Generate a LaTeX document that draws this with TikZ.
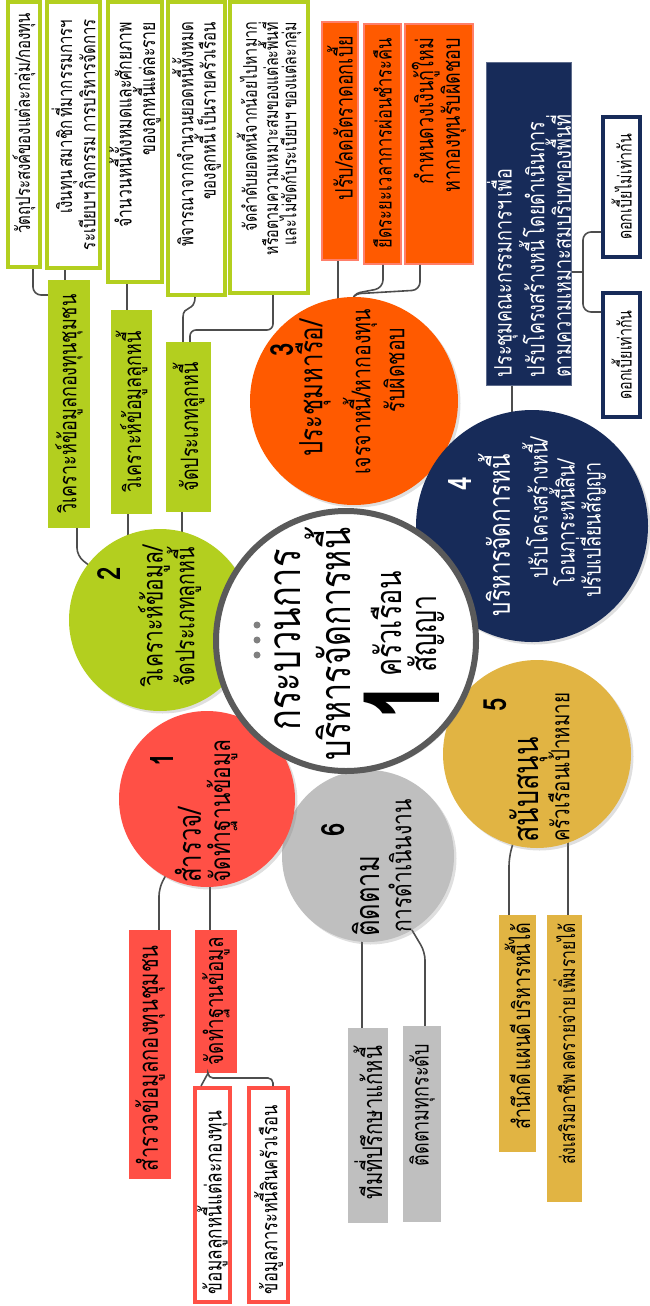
\documentclass[tikz,border=0pt]{standalone}
\usepackage{fontspec}
\newfontfamily\thai[Script=Thai,FakeStretch=0.75]{Loma}
\usetikzlibrary{shadows}
\definecolor{cRed}{HTML}{FF5046}
\definecolor{cGreen}{HTML}{B3CF1F}
\definecolor{cOrange}{HTML}{FF5A00}
\definecolor{cOrB}{HTML}{FF7F6A}
\definecolor{cNavy}{HTML}{172B59}
\definecolor{cGold}{HTML}{E1B443}
\definecolor{cGray}{HTML}{BFBFBF}
\definecolor{cRing}{HTML}{5A5A5A}
\definecolor{cLine}{HTML}{4D4D4D}
\newcommand\fsz[2]{\fontsize{#1}{#2}\selectfont}
\begin{document}
\begin{tikzpicture}[x=1pt,y=-1pt,
 circ/.style={circle, inner sep=0pt, draw=none, drop shadow={shadow xshift=2.5pt, shadow yshift=-2.5pt, opacity=0.25}},
 lbl/.style={rotate=90, inner sep=0pt, font=\thai},
 num/.style={rotate=90, inner sep=0pt, font=\thai\bfseries\fsz{32}{32}},
 bx/.style={rotate=90, inner xsep=8pt, inner ysep=0pt, font=\thai},
 conn/.style={draw=cLine, line width=1.6pt, rounded corners=8pt},
 gob/.style={bx, draw=cGreen, fill=white, line width=4pt, align=right},
 gfb/.style={bx, fill=cGreen, align=center},
 orb/.style={bx, fill=cOrange, draw=cOrB, line width=1.5pt, align=right, inner xsep=14pt},
 nob/.style={bx, draw=cNavy, fill=white, line width=4pt, align=center},
 rfb/.style={bx, fill=cRed, align=left},
 rob/.style={bx, draw=cRed, fill=white, line width=4pt, align=left},
 yfb/.style={bx, fill=cGold, align=right},
 kfb/.style={bx, fill=cGray, align=right, inner xsep=18pt},
]
\useasboundingbox (0,0) rectangle (649,1306);
% circle centres
\coordinate (p1) at (207,799);
\coordinate (p2) at (160,620);
\coordinate (p3) at (354,401);
\coordinate (p4) at (532,526);
\coordinate (p5) at (537,754);
\coordinate (p6) at (368,856);
% ---- branch 2 boxes
\node[gob, text width=243pt, inner xsep=11pt, minimum height=32pt] (b2a) at (24,134.5) {\fsz{20}{20}วัตถุประสงค์ของแต่ละกลุ่ม/กองทุน};
\node[gob, text width=230pt, inner xsep=18pt, minimum height=53pt] (b2b) at (73.5,135) {\fsz{20}{21}เงินทุน~สมาชิก~ที่มากรรมการฯ\\ระเบียบฯ~กิจกรรม~การบริหารจัดการ};
\node[gob, text width=240pt, inner xsep=20pt, minimum height=54pt] (b2c) at (135,142) {\fsz{21}{21}จำนวนหนี้ทั้งหมดและศักยภาพ\\ของลูกหนี้แต่ละราย};
\node[gob, text width=253pt, inner xsep=20pt, minimum height=57pt] (b2d) at (196.5,148.5) {\fsz{20}{21}พิจารณาจากจำนวนยอดหนี้ทั้งหมด\\ของลูกหนี้~เป็นรายครัวเรือน};
\node[gob, text width=251pt, inner xsep=20pt, minimum height=78pt] (b2e) at (269,147.5) {\fsz{19}{19}จัดลำดับยอดหนี้จากน้อยไปหามาก\\หรือตามความเหมาะสมของแต่ละพื้นที่\\และไม่ขัดกับระเบียบฯ~ของแต่ละกลุ่ม};
\node[gfb, text width=232pt, minimum height=42pt] (g1) at (69,404) {\fsz{24}{24}วิเคราะห์ข้อมูลกองทุนชุมชน};
\node[gfb, text width=188pt, minimum height=41pt] (g2) at (131.5,412) {\fsz{24}{24}วิเคราะห์ข้อมูลลูกหนี้};
\node[gfb, text width=154pt, minimum height=45pt] (g3) at (188.5,427) {\fsz{24}{24}จัดประเภทลูกหนี้};
% ---- branch 3 boxes
\node[orb, text width=210pt, minimum height=36pt] (o1) at (340,141) {\fsz{24}{24}ปรับ/ลดอัตราดอกเบี้ย};
\node[orb, text width=212pt, minimum height=37pt] (o2) at (382.5,144) {\fsz{22}{22}ยืดระยะเวลาการผ่อนชำระคืน};
\node[orb, text width=212pt, minimum height=68pt] (o3) at (439,144) {\fsz{24}{21}กำหนดวงเงินกู้ใหม่\\หากองทุนรับผิดชอบ};
% ---- branch 4 boxes
\node[bx, fill=cNavy, draw=cNavy!70!white, line width=1pt, text=white, align=left, text width=306pt, minimum height=78pt] (nb) at (529,224) {\fsz{24}{23}ประชุมคณะกรรมการฯ~เพื่อ\\ปรับโครงสร้างหนี้~โดยดำเนินการ\\ตามความเหมาะสมบริบทของพื้นที่};
\node[nob, text width=124pt, minimum height=37pt] (nn1) at (621.5,187) {\fsz{19}{19}ดอกเบี้ยไม่เท่ากัน};
\node[nob, text width=108pt, minimum height=37pt] (nn2) at (621.5,355) {\fsz{19}{19}ดอกเบี้ยเท่ากัน};
% ---- branch 1 boxes
\node[rfb, text width=233pt, minimum height=42pt] (r1) at (150,1054.5) {\fsz{27}{27}สำรวจข้อมูลกองทุนชุมชน};
\node[rfb, text width=127pt, minimum height=42pt] (r2) at (216,1001.5) {\fsz{25}{25}จัดทำฐานข้อมูล};
\node[rob, text width=198pt, minimum height=35pt] (r2a) at (212.5,1195) {\fsz{23}{23}ข้อมูลลูกหนี้แต่ละกองทุน};
\node[rob, text width=198pt, minimum height=39pt] (r2b) at (268.5,1195) {\fsz{22}{22}ข้อมูลภาระหนี้สินครัวเรือน};
% ---- branch 5 boxes
\node[yfb, text width=221pt, minimum height=37pt] (y1) at (517.5,1033.5) {\fsz{24}{24}สำนึกดี~แผนดี~บริหารหนี้ได้};
\node[yfb, text width=271pt, minimum height=35pt] (y2) at (564.5,1058.5) {\fsz{21}{21}ส่งเสริมอาชีพ~ลดรายจ่าย~เพิ่มรายได้};
% ---- branch 6 boxes
\node[kfb, text width=159pt, minimum height=40pt] (k1) at (368,1125.5) {\fsz{27}{27}ทีมที่ปรึกษาแก้หนี้};
\node[kfb, text width=160pt, minimum height=38pt] (k2) at (422,1124) {\fsz{24}{24}ติดตามทุกระดับ};
% ---- connectors
\draw[conn] (159,0 |- r1.east) -- (159,888) -- (p1);
\draw[conn] (210,0 |- r2.east) -- (210,800);
\draw[conn] (208,0 |- r2.west) -- (201,0 |- r2a.east);
\draw[conn, rounded corners=5pt] (208,0 |- r2.west) -- (208,1078) -- (273,1078) -- (273,0 |- r2b.east);
\draw[conn] (77,0 |- g1.west) -- (77,556) -- (p2);
\draw[conn] (128,0 |- g2.west) -- (128,620);
\draw[conn] (182,0 |- g3.west) -- (182,620);
\draw[conn] (33,0 |- b2a.west) -- (33,295) -- (g1.north |- 0,295);
\draw[conn] (65,0 |- g1.east) -- (65,0 |- b2b.west);
\draw[conn] (127,0 |- g2.east) -- (127,0 |- b2c.west);
\draw[conn] (195,0 |- b2d.west) .. controls (195,312) and (183,305) .. (183,325) -- (183,0 |- g3.east);
\draw[conn, rounded corners=6pt] (273,0 |- b2e.west) -- (273,330) -- (190,330) -- (190,0 |- g3.east);
\draw[conn] (338,0 |- o1.west) -- (338,340);
\draw[conn] (383,0 |- o2.west) -- (383,288) -- (352,294) -- (p3);
\draw[conn] (420,0 |- o3.west) -- (420,290) -- (352,294) -- (p3);
\draw[conn] (512,0 |- nb.west) -- (512,500);
\draw[conn] (nb.south |- 0,272) -- (583,272);
\draw[conn] (nn1.north |- 0,232) -- (583,232) -- (583,312) -- (nn2.north |- 0,312);
\draw[conn] (509,0 |- y1.east) -- (509,858) -- (p5);
\draw[conn] (568,0 |- y2.east) -- (568,760);
\draw[conn] (362,0 |- k1.east) -- (362,860);
\draw[conn] (425,0 |- k2.east) -- (425,952) -- (p6);
% ---- circles
\node[circ, fill=cGray, minimum size=172pt] (c6) at (p6) {};
\node[circ, fill=cRed, minimum size=176pt] (c1) at (p1) {};
\node[circ, fill=cGreen, minimum size=182pt] (c2) at (p2) {};
\node[circ, fill=cOrange, minimum size=208pt] (c3) at (p3) {};
\node[circ, fill=cNavy, minimum size=232pt] (c4) at (p4) {};
\node[circ, fill=cGold, minimum size=188pt] (c5) at (p5) {};
\node[circle, draw=cRing, line width=6pt, fill=white, minimum size=260pt, inner sep=0pt, drop shadow={shadow xshift=2.5pt, shadow yshift=-2.5pt, opacity=0.3}] (cc) at (346,641) {};
\foreach \i/\yy in {1/625,2/640,3/655} \node[circle, fill=black!50, minimum size=7pt, inner sep=0pt] (dot\i) at (257,\yy) {};
% ---- centre text
\node[lbl] (ct1) at (288,640) {\fsz{46}{46}กระบวนการ};
\node[lbl] (ct2) at (328,644) {\fsz{43}{43}บริหารจัดการหนี้};
\node[lbl, font=\thai\bfseries] (ct3) at (402,701) {\fsz{105}{105}1};
\node[lbl, anchor=west] (ct4) at (386,677) {\fsz{36}{36}ครัวเรือน};
\node[lbl, anchor=west] (ct5) at (426,673) {\fsz{36}{36}สัญญา};
% ---- circle texts
\node[num] (c1n) at (162,760) {1};
\node[lbl, anchor=west] (c1a) at (188,883) {\fsz{32}{32}สำรวจ/};
\node[lbl, anchor=west] (c1b) at (222,883) {\fsz{28}{28}จัดทำฐานข้อมูล};
\node[num] (c2n) at (109,574) {2};
\node[lbl, anchor=west] (c2a) at (154,687) {\fsz{28}{28}วิเคราะห์ข้อมูล/};
\node[lbl, anchor=west] (c2b) at (184,687) {\fsz{26}{26}จัดประเภทลูกหนี้};
\node[num] (c3n) at (282,350) {3};
\node[lbl] (c3a) at (313,388) {\fsz{32}{32}ประชุมหารือ/};
\node[lbl] (c3b) at (360,392) {\fsz{26}{26}เจรจาหนี้/หากองทุน};
\node[lbl] (c3c) at (394,370) {\fsz{26}{26}รับผิดชอบ};
\node[num, text=white] (c4n) at (460,484) {4};
\node[lbl, text=white] (c4a) at (494,535) {\fsz{30}{30}บริหารจัดการหนี้};
\node[lbl, text=white] (c4b) at (535,508) {\fsz{24}{24}ปรับโครงสร้างหนี้/};
\node[lbl, text=white] (c4c) at (562,523) {\fsz{24}{24}โอนภาระหนี้สิน/};
\node[lbl, text=white] (c4d) at (591,530) {\fsz{24}{24}ปรับเปลี่ยนสัญญา};
\node[num] (c5n) at (495,705) {5};
\node[lbl, anchor=west] (c5a) at (529,843) {\fsz{36}{36}สนับสนุน};
\node[lbl, anchor=west] (c5b) at (559,842) {\fsz{25}{25}ครัวเรือนเป้าหมาย};
\node[num] (c6n) at (333,830) {6};
\node[lbl, anchor=west] (c6a) at (366,937) {\fsz{34}{34}ติดตาม};
\node[lbl, anchor=west] (c6b) at (400,933) {\fsz{28}{28}การดำเนินงาน};
\end{tikzpicture}
\end{document}
